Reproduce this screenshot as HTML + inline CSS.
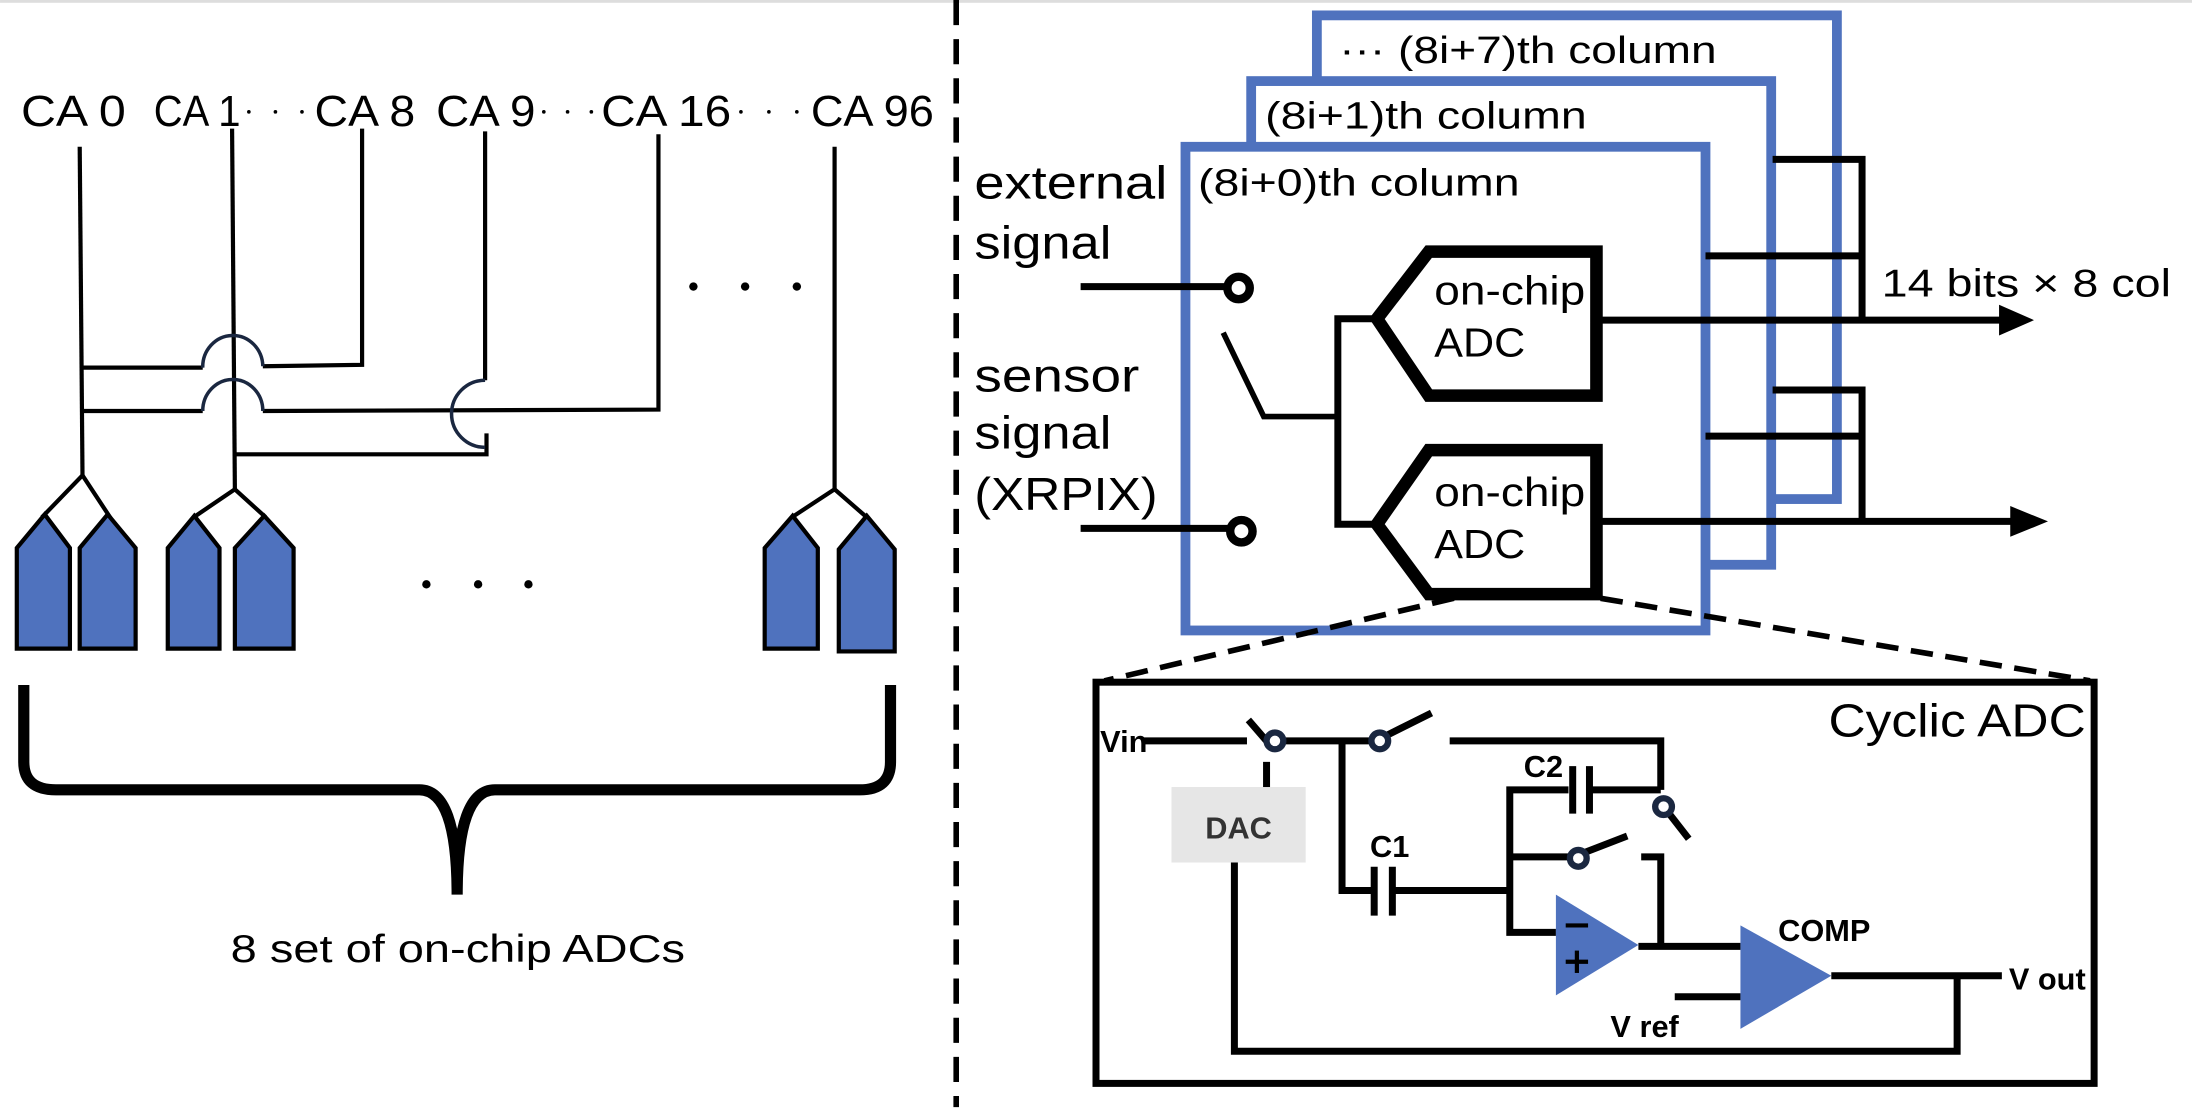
<!DOCTYPE html>
<html><head><meta charset="utf-8"><style>
html,body{margin:0;padding:0;background:#fff;width:2192px;height:1108px;overflow:hidden}
svg{display:block}
text{font-family:"Liberation Sans",sans-serif;fill:#000}
.b{font-weight:bold}
</style></head><body>
<svg width="2192" height="1108" viewBox="0 0 1568 792.6" xmlns="http://www.w3.org/2000/svg">
<rect x="0" y="0" width="1568" height="2" fill="#ddd"/>
<line x1="684" y1="0" x2="684" y2="792" stroke="#000" stroke-width="4" stroke-dasharray="18,10"/>

<!-- LEFT -->
<g font-size="31">
<text x="15" y="90" textLength="75" lengthAdjust="spacingAndGlyphs">CA 0</text>
<text x="110" y="90" textLength="62" lengthAdjust="spacingAndGlyphs">CA 1</text>
<text x="225" y="90" textLength="72" lengthAdjust="spacingAndGlyphs">CA 8</text>
<text x="312" y="90" textLength="71" lengthAdjust="spacingAndGlyphs">CA 9</text>
<text x="430" y="90" textLength="93" lengthAdjust="spacingAndGlyphs">CA 16</text>
<text x="580" y="90" textLength="88" lengthAdjust="spacingAndGlyphs">CA 96</text>
</g>
<g fill="#000">
<circle cx="178" cy="80" r="1.3"/><circle cx="197" cy="80" r="1.3"/><circle cx="216" cy="80" r="1.3"/>
<circle cx="389" cy="80" r="1.3"/><circle cx="406" cy="80" r="1.3"/><circle cx="423" cy="80" r="1.3"/>
<circle cx="530" cy="80" r="1.3"/><circle cx="550" cy="80" r="1.3"/><circle cx="570" cy="80" r="1.3"/>
<circle cx="496" cy="205" r="3"/><circle cx="533" cy="205" r="3"/><circle cx="570" cy="205" r="3"/>
<circle cx="305" cy="418" r="3"/><circle cx="342" cy="418" r="3"/><circle cx="378" cy="418" r="3"/>
</g>
<g stroke="#000" stroke-width="3" fill="none">
<line x1="57" y1="105" x2="59" y2="340"/>
<line x1="166" y1="92" x2="168" y2="350"/>
<polyline points="259,92 259,261 188,262"/>
<polyline points="347,94 347,272"/>
<polyline points="471,96 471,293 188,294"/>
<polyline points="59,263 145,263"/>
<polyline points="59,294 145,294"/>
<polyline points="168,325 348,325 348,310"/>
<polyline points="597,105 597,350"/>
<polyline points="30,370 59,340 80,372"/>
<polyline points="140,369 168,350 190,370"/>
<polyline points="568,369 597,350 620,370"/>
</g>
<g stroke="#1a2740" stroke-width="2.5" fill="none">
<path d="M145,263 A21,22 0 0 1 188,262"/>
<path d="M145,294 A21,22 0 0 1 188,294"/>
<path d="M347,272 A24,24 0 0 0 347,320"/>
</g>
<g fill="#4f72be" stroke="#000" stroke-width="3">
<polygon points="12,392 32,368 50,392 50,464 12,464"/>
<polygon points="57,392 77,368 97,392 97,464 57,464"/>
<polygon points="120,392 139,369 157,392 157,464 120,464"/>
<polygon points="168,392 189,369 210,392 210,464 168,464"/>
<polygon points="547,392 567,369 585,392 585,464 547,464"/>
<polygon points="600,393 620,369 640,393 640,466 600,466"/>
</g>
<path d="M17,490 L17,545 Q17,565 40,565 L300,565 Q327,565 327,640 Q327,565 354,565 L615,565 Q637,565 637,545 L637,490" stroke="#000" stroke-width="8" fill="none"/>
<text x="165" y="688" font-size="28" textLength="325" lengthAdjust="spacingAndGlyphs">8 set of on-chip ADCs</text>

<!-- RIGHT -->
<g stroke="#4f72be" stroke-width="7" fill="#fff">
<rect x="942" y="11" width="372" height="346"/>
<rect x="895" y="58" width="372" height="346"/>
<rect x="848" y="105" width="372" height="346"/>
</g>
<text x="958" y="45" font-size="27" textLength="270" lengthAdjust="spacingAndGlyphs">··· (8i+7)th column</text>
<text x="905" y="92" font-size="27" textLength="230" lengthAdjust="spacingAndGlyphs">(8i+1)th column</text>
<text x="857" y="140" font-size="27" textLength="230" lengthAdjust="spacingAndGlyphs">(8i+0)th column</text>
<g font-size="33">
<text x="697" y="142" textLength="138" lengthAdjust="spacingAndGlyphs">external</text>
<text x="697" y="185" textLength="98" lengthAdjust="spacingAndGlyphs">signal</text>
<text x="697" y="280" textLength="118" lengthAdjust="spacingAndGlyphs">sensor</text>
<text x="697" y="321" textLength="98" lengthAdjust="spacingAndGlyphs">signal</text>
<text x="697" y="365" textLength="131" lengthAdjust="spacingAndGlyphs">(XRPIX)</text>
</g>
<g stroke="#000" fill="none">
<line x1="773" y1="205" x2="878" y2="205" stroke-width="5"/>
<line x1="773" y1="378" x2="880" y2="378" stroke-width="5"/>
<circle cx="886" cy="206" r="8" stroke-width="6" fill="#fff"/>
<circle cx="888" cy="380" r="8" stroke-width="6" fill="#fff"/>
<polyline points="875,238 904,298 957,298" stroke-width="4"/>
<polyline points="985,228 957,228 957,375 985,375" stroke-width="5"/>
<polygon points="985,228 1022,180 1142,180 1142,283 1022,283" stroke-width="9" fill="#fff"/>
<polygon points="985,375 1022,322 1142,322 1142,425 1022,425" stroke-width="9" fill="#fff"/>
<line x1="1142" y1="229" x2="1432" y2="229" stroke-width="5"/>
<line x1="1142" y1="373" x2="1440" y2="373" stroke-width="5"/>
<polyline points="1268,114 1332,114 1332,229" stroke-width="5"/>
<line x1="1220" y1="183" x2="1332" y2="183" stroke-width="5"/>
<polyline points="1268,279 1332,279 1332,373" stroke-width="5"/>
<line x1="1220" y1="312" x2="1332" y2="312" stroke-width="5"/>
<line x1="1040" y1="428" x2="790" y2="487" stroke-width="4" stroke-dasharray="16,9"/>
<line x1="1145" y1="428" x2="1495" y2="487" stroke-width="4" stroke-dasharray="16,9"/>
</g>
<polygon points="1430,218 1455,229 1430,240" fill="#000"/>
<polygon points="1438,362 1465,373 1438,384" fill="#000"/>
<g font-size="29">
<text x="1026" y="218" textLength="108" lengthAdjust="spacingAndGlyphs">on-chip</text>
<text x="1026" y="255" textLength="65" lengthAdjust="spacingAndGlyphs">ADC</text>
<text x="1026" y="362" textLength="108" lengthAdjust="spacingAndGlyphs">on-chip</text>
<text x="1026" y="399" textLength="65" lengthAdjust="spacingAndGlyphs">ADC</text>
</g>
<text x="1346" y="212" font-size="28" textLength="207" lengthAdjust="spacingAndGlyphs">14 bits × 8 col</text>

<!-- Cyclic ADC -->
<rect x="784" y="488" width="714" height="287" fill="#fff" stroke="#000" stroke-width="5"/>
<text x="1308" y="527" font-size="33" textLength="184" lengthAdjust="spacingAndGlyphs">Cyclic ADC</text>
<rect x="838" y="563" width="96" height="54" fill="#e6e6e6"/>
<text x="886" y="600" font-size="22" class="b" text-anchor="middle" style="fill:#333">DAC</text>
<g stroke="#000" stroke-width="5" fill="none">
<line x1="818" y1="530" x2="892" y2="530"/>
<line x1="912" y1="530" x2="985" y2="530"/>
<polyline points="1037,530 1188,530 1188,565"/>
<line x1="906" y1="545" x2="906" y2="563"/>
<polyline points="960,530 960,637 983,637"/>
<line x1="983" y1="620" x2="983" y2="655"/>
<line x1="996" y1="620" x2="996" y2="655"/>
<polyline points="996,637 1080,637"/>
<polyline points="1122,565 1080,565 1080,667 1113,667"/>
<line x1="1125" y1="548" x2="1125" y2="582"/>
<line x1="1137" y1="548" x2="1137" y2="582"/>
<line x1="1137" y1="565" x2="1188" y2="565"/>
<line x1="1080" y1="613" x2="1125" y2="613"/>
<polyline points="1174,613 1188,613 1188,677"/>
<line x1="1172" y1="677" x2="1245" y2="677"/>
<line x1="1310" y1="698" x2="1432" y2="698"/>
<polyline points="883,617 883,752 1400,752 1400,698"/>
<line x1="1198" y1="713" x2="1245" y2="713"/>
<line x1="893" y1="515" x2="906" y2="530"/>
<line x1="990" y1="527" x2="1024" y2="510"/>
<line x1="1194" y1="582" x2="1208" y2="600"/>
<line x1="1133" y1="610" x2="1164" y2="598"/>
</g>
<g fill="#fff" stroke="#1a2740" stroke-width="4.5">
<circle cx="912" cy="530" r="6"/>
<circle cx="987" cy="530" r="6"/>
<circle cx="1190" cy="577" r="6"/>
<circle cx="1129" cy="614" r="6"/>
</g>
<polygon points="1113,640 1113,712 1172,676" fill="#4f72be"/>
<polygon points="1245,662 1245,736 1310,698" fill="#4f72be"/>
<line x1="1120" y1="662" x2="1136" y2="662" stroke="#000" stroke-width="3"/>
<line x1="1120" y1="688" x2="1136" y2="688" stroke="#000" stroke-width="3"/>
<line x1="1128" y1="680" x2="1128" y2="696" stroke="#000" stroke-width="3"/>
<g font-size="22" class="b">
<text x="787" y="538">Vin</text>
<text x="980" y="613">C1</text>
<text x="1090" y="556">C2</text>
<text x="1272" y="673">COMP</text>
<text x="1437" y="708">V out</text>
<text x="1152" y="742">V ref</text>
</g>
</svg>
</body></html>
